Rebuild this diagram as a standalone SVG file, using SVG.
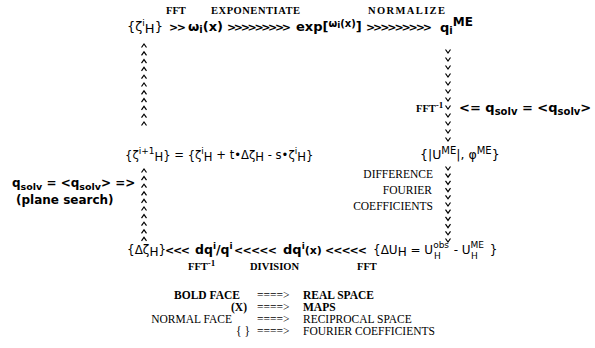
<svg xmlns="http://www.w3.org/2000/svg" width="595" height="348" viewBox="0 0 595 348">
<defs>
<style>
text{font-family:"DejaVu Sans","Liberation Sans",sans-serif;fill:#000}
.b{font-weight:bold}
.n{font-size:12px}
.m{font-size:13px;font-weight:bold}
.chev{font-family:"DejaVu Sans",sans-serif;font-weight:bold;font-size:11px}
.lab{font-family:"Liberation Serif","DejaVu Serif",serif;font-weight:bold;font-size:10.5px}
.leg{font-family:"Liberation Serif","DejaVu Serif",serif;font-size:11.5px}
.legb{font-family:"Liberation Serif","DejaVu Serif",serif;font-size:11.5px;font-weight:bold}
.s{font-size:9px}
.sb{font-size:10px}
.arr{fill:none;stroke:#000;stroke-width:1.2}
</style>
<path id="up" d="M-2.5,2.5 L0,-1 L2.5,2.5" class="arr"/>
<path id="dn" d="M-2.5,-1.5 L0,2 L2.5,-1.5" class="arr"/>
</defs>
<g id="labels-top">
<text class="lab" x="166" y="14">FFT</text>
<text class="lab" x="211" y="14" textLength="89">EXPONENTIATE</text>
<text class="lab" x="368" y="14" textLength="77">NORMALIZE</text>
</g>
<g id="node-zeta">
<text font-size="13" x="127" y="31">{ζ<tspan class="s" dy="-5">i</tspan><tspan dy="7">H</tspan><tspan dy="-2">}</tspan></text>
</g>
<g id="node-omega">
<text class="m" x="188" y="31">ω<tspan class="sb" dy="2">i</tspan><tspan dy="-2">(x)</tspan></text>
</g>
<g id="node-exp">
<text class="m" x="296" y="31">exp[<tspan class="sb" dy="-4">ω</tspan><tspan class="s" dy="1">i</tspan><tspan class="sb" dy="-1">(x)</tspan><tspan dy="4">]</tspan></text>
</g>
<g id="node-qME">
<text class="m" x="440" y="32">q<tspan class="sb" dy="2">i</tspan><tspan dy="-8" font-size="12">ME</tspan></text>
</g>
<g id="connectors">
<text class="chev" x="169" y="31" textLength="17" lengthAdjust="spacing">&gt;&gt;</text>
<text class="chev" x="227" y="31" textLength="64" lengthAdjust="spacing">&gt;&gt;&gt;&gt;&gt;&gt;&gt;&gt;&gt;</text>
<text class="chev" x="366" y="31" textLength="66" lengthAdjust="spacing">&gt;&gt;&gt;&gt;&gt;&gt;&gt;&gt;&gt;</text>
<text class="chev" x="165" y="254" textLength="25" lengthAdjust="spacing">&lt;&lt;&lt;</text>
<text class="chev" x="234" y="254" textLength="43" lengthAdjust="spacing">&lt;&lt;&lt;&lt;&lt;</text>
<text class="chev" x="325" y="254" textLength="42" lengthAdjust="spacing">&lt;&lt;&lt;&lt;&lt;</text>
<use href="#up" x="144" y="45"/><use href="#up" x="144" y="52.8"/><use href="#up" x="144" y="60.6"/><use href="#up" x="144" y="68.4"/><use href="#up" x="144" y="76.2"/><use href="#up" x="144" y="84"/><use href="#up" x="144" y="91.8"/><use href="#up" x="144" y="99.6"/><use href="#up" x="144" y="107.4"/><use href="#up" x="144" y="115.2"/><use href="#up" x="144" y="123"/>
<use href="#up" x="144" y="170"/><use href="#up" x="144" y="177.6"/><use href="#up" x="144" y="185.2"/><use href="#up" x="144" y="192.8"/><use href="#up" x="144" y="200.4"/><use href="#up" x="144" y="208"/><use href="#up" x="144" y="215.6"/><use href="#up" x="144" y="223.2"/><use href="#up" x="144" y="230.8"/><use href="#up" x="144" y="238.4"/>
<use href="#dn" x="448" y="51"/><use href="#dn" x="448" y="59"/><use href="#dn" x="448" y="67"/><use href="#dn" x="448" y="75"/><use href="#dn" x="448" y="83"/><use href="#dn" x="448" y="91"/><use href="#dn" x="448" y="99"/><use href="#dn" x="448" y="107"/><use href="#dn" x="448" y="115"/><use href="#dn" x="448" y="123"/><use href="#dn" x="448" y="131"/><use href="#dn" x="448" y="139"/>
<use href="#dn" x="448" y="168"/><use href="#dn" x="448" y="175.2"/><use href="#dn" x="448" y="182.4"/><use href="#dn" x="448" y="189.6"/><use href="#dn" x="448" y="196.8"/><use href="#dn" x="448" y="204"/><use href="#dn" x="448" y="211.2"/><use href="#dn" x="448" y="218.4"/><use href="#dn" x="448" y="225.6"/><use href="#dn" x="448" y="232.8"/><use href="#dn" x="448" y="240"/>
</g>
<g id="label-fftinv-right">
<text class="lab" x="416" y="112">FFT<tspan font-size="9" dy="-4">-1</tspan></text>
</g>
<g id="label-qsolv-right">
<text class="m" x="459" y="112">&lt;= q<tspan class="sb" dy="3">solv</tspan><tspan dy="-3"> = &lt;q</tspan><tspan class="sb" dy="3">solv</tspan><tspan dy="-3">&gt;</tspan></text>
</g>
<g id="node-UME">
<text font-size="12.5" x="420" y="159">{|U<tspan font-size="10" dy="-5">ME</tspan><tspan dy="5">|, φ</tspan><tspan font-size="10" dy="-5">ME</tspan><tspan dy="5">}</tspan></text>
</g>
<g id="node-zeta-next">
<text font-size="11.6" x="125" y="159">{ζ<tspan class="s" dy="-5">i+1</tspan><tspan dy="7">H</tspan><tspan dy="-2">} = {ζ</tspan><tspan class="s" dy="-5">i</tspan><tspan dy="7">H</tspan><tspan dy="-2"> + t•Δζ</tspan><tspan dy="2">H</tspan><tspan dy="-2"> - s•ζ</tspan><tspan class="s" dy="-5">i</tspan><tspan dy="7">H</tspan><tspan dy="-2">}</tspan></text>
</g>
<g id="label-qsolv-left">
<text class="b" font-size="12" x="12" y="187">q<tspan font-size="9.5" dy="3">solv</tspan><tspan dy="-3"> = &lt;q</tspan><tspan font-size="9.5" dy="3">solv</tspan><tspan dy="-3">&gt; =&gt;</tspan></text>
<text class="b" font-size="12" x="16" y="204">(plane search)</text>
</g>
<g id="label-difference">
<text class="leg" x="433" y="178" text-anchor="end">DIFFERENCE</text>
<text class="leg" x="432" y="194" text-anchor="end">FOURIER</text>
<text class="leg" x="433" y="210" text-anchor="end">COEFFICIENTS</text>
</g>
<g id="node-dzeta">
<text class="n" x="127" y="254">{Δζ<tspan dy="2">H</tspan><tspan dy="-2">}</tspan></text>
</g>
<g id="node-dq-ratio">
<text class="b" font-size="12.5" x="195" y="254">dq<tspan class="s" dy="-5">i</tspan><tspan dy="5">/q</tspan><tspan class="s" dy="-5">i</tspan></text>
</g>
<g id="node-dq">
<text class="m" x="283" y="254">dq<tspan class="s" dy="-5">i</tspan><tspan dy="5" font-size="11">(x)</tspan></text>
</g>
<g id="node-dU">
<text class="n" x="373" y="254">{ΔU<tspan dy="2">H</tspan><tspan dy="-2"> = U</tspan><tspan class="s" dy="-6">obs</tspan><tspan class="s" dx="-15" dy="11">H</tspan><tspan dx="9" dy="-5"> - U</tspan><tspan class="s" dy="-6">ME</tspan><tspan class="s" dx="-13" dy="11">H</tspan><tspan dx="12" dy="-5">}</tspan></text>
</g>
<g id="labels-bottom">
<text class="lab" x="188" y="270">FFT<tspan font-size="9" dy="-4">-1</tspan></text>
<text class="lab" x="250" y="270">DIVISION</text>
<text class="lab" x="357" y="270">FFT</text>
</g>
<g id="legend">
<text class="legb" x="240" y="299" text-anchor="end">BOLD FACE</text>
<text class="leg" x="257" y="299">====&gt;</text>
<text class="legb" x="303" y="299">REAL SPACE</text>
<text class="legb" x="247" y="311" text-anchor="end">(X)</text>
<text class="leg" x="257" y="311">====&gt;</text>
<text class="legb" x="303" y="311">MAPS</text>
<text class="leg" x="232" y="323" text-anchor="end">NORMAL FACE</text>
<text class="leg" x="257" y="323">====&gt;</text>
<text class="leg" x="303" y="323">RECIPROCAL SPACE</text>
<text class="leg" x="250" y="335" text-anchor="end">{  }</text>
<text class="leg" x="257" y="335">====&gt;</text>
<text class="leg" x="303" y="335">FOURIER COEFFICIENTS</text>
</g>
</svg>
